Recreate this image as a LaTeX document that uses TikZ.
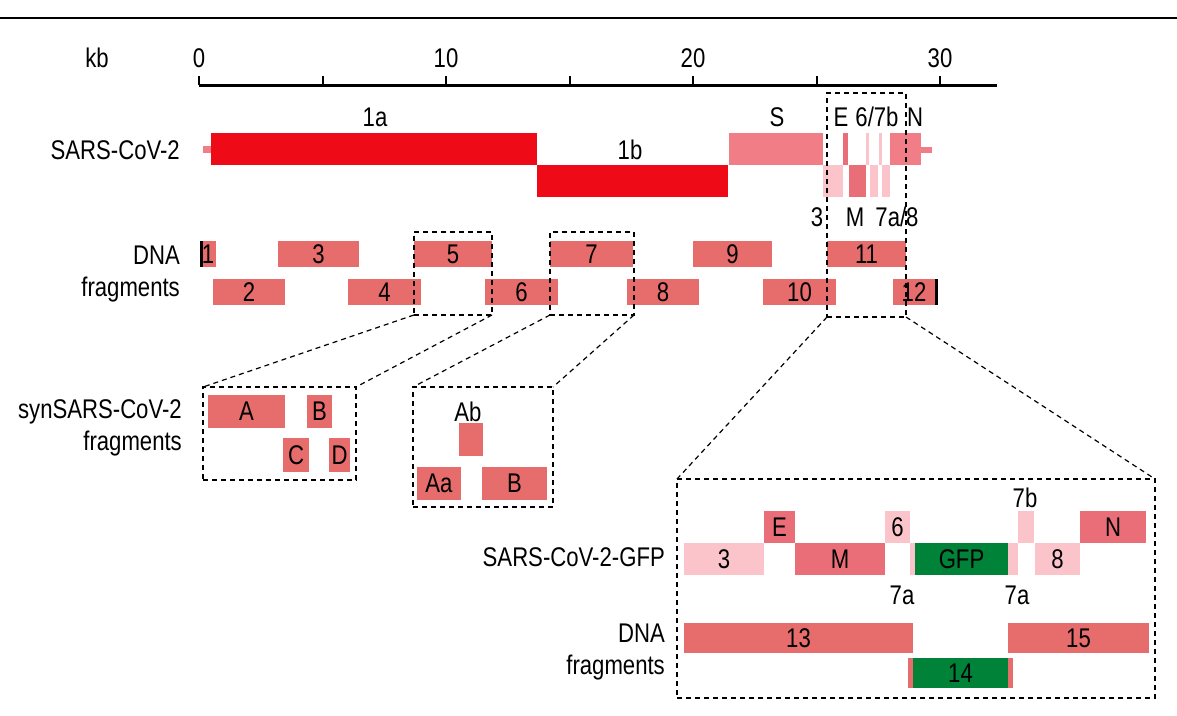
\documentclass[tikz,border=0pt]{standalone}
\usepackage{fontspec}
\setmainfont{Liberation Sans}[FakeStretch=0.82]

\definecolor{orfred}{RGB}{238,10,22}
\definecolor{orfpink}{RGB}{241,125,135}
\definecolor{orfmid}{RGB}{233,110,120}
\definecolor{orflight}{RGB}{250,196,202}
\definecolor{fragsalmon}{RGB}{231,108,108}
\definecolor{gfpgreen}{RGB}{0,130,56}

\tikzset{
	seg/.style={fill=#1, draw=none, inner sep=0pt, outer sep=0pt, anchor=north west},
	zoomrect/.style={draw, line width=1.2pt, dash pattern=on 5pt off 4pt, inner sep=0pt, outer sep=0pt, anchor=north west},
	zoomline/.style={line width=1.2pt, dash pattern=on 5pt off 4pt},
	lbl/.style={inner sep=0pt},
	rowlbl/.style={align=right, anchor=east, inner sep=0pt}
}

% style, name, x1, x2, top, bottom, text
\newcommand{\gbox}[7]{\node[#1, minimum width={#4-#3}, minimum height={#6-#5}] (#2) at (#3,#5) {#7};}

\begin{document}
\begin{tikzpicture}[x=1pt, y=-1pt, font=\fontsize{27}{32}\selectfont]
	\useasboundingbox (0,0) rectangle (1177,715);
	\draw[line width=2.5pt] (0,18) -- (1177,18);

	% scale in kb
	\node[lbl] (kb) at (97,58) {kb};
	\draw[line width=3pt] (199,85) -- (997,85);
	\foreach \k in {0,5,...,30}
		\draw[line width=2pt] (199+24.7*\k,85) -- ++(0,-9);
	\foreach \k in {0,10,20,30}
		\node[lbl] (tick\k) at (199+24.7*\k,58) {\k};

	% genome
	\node[rowlbl] (lgenome) at (180,150) {SARS-CoV-2};
	\gbox{seg=orfpink}{utr5}{203}{212}{146}{153}{}
	\gbox{seg=orfpink}{utr3}{920}{932}{147}{153}{}
	\gbox{seg=orfred}{orf1a}{211}{537}{133}{165}{}
	\gbox{seg=orfred}{orf1b}{537}{728}{165}{197}{}
	\gbox{seg=orfpink}{orfS}{729}{823}{133}{165}{}
	\gbox{seg=orflight}{orf3}{823}{843}{165}{197}{}
	\gbox{seg=orfmid}{orfE}{843}{848}{133}{165}{}
	\gbox{seg=orfmid}{orfM}{849}{866}{165}{197}{}
	\gbox{seg=orflight}{orf6}{866}{869}{133}{165}{}
	\gbox{seg=orflight}{orf7a}{870}{878}{165}{197}{}
	\gbox{seg=orflight}{orf7b}{879}{882}{133}{165}{}
	\gbox{seg=orflight}{orf8}{882}{890}{165}{197}{}
	\gbox{seg=orfpink}{orfN}{890}{921}{133}{165}{}
	\node[lbl] (l1a) at (375,117) {1a};
	\node[lbl] (l1b) at (630,150) {1b};
	\node[lbl] (lS) at (777,117) {S};
	\node[lbl] (lE) at (841,117) {E};
	\node[lbl] (l67b) at (877,117) {6/7b};
	\node[lbl] (lN) at (915,117) {N};
	\node[lbl] (l3) at (817,217) {3};
	\node[lbl] (lM) at (855,217) {M};
	\node[lbl] (l7a8) at (897,217) {7a/8};

	% DNA fragments 1-12
	\node[rowlbl] (ldna) at (180,274) {DNA\\fragments};
	\gbox{seg=fragsalmon}{f1}{200}{216}{241}{267}{1}
	\gbox{seg=black}{end1}{200}{203}{241}{267}{}
	\gbox{seg=fragsalmon}{f2}{213}{285}{279}{305}{2}
	\gbox{seg=fragsalmon}{f3}{278}{359}{241}{267}{3}
	\gbox{seg=fragsalmon}{f4}{348}{421}{279}{305}{4}
	\gbox{seg=fragsalmon}{f5}{414}{492}{241}{267}{5}
	\gbox{seg=fragsalmon}{f6}{485}{558}{279}{305}{6}
	\gbox{seg=fragsalmon}{f7}{550}{633}{241}{267}{7}
	\gbox{seg=fragsalmon}{f8}{627}{699}{279}{305}{8}
	\gbox{seg=fragsalmon}{f9}{693}{772}{241}{267}{9}
	\gbox{seg=fragsalmon}{f10}{763}{836}{279}{305}{10}
	\gbox{seg=fragsalmon}{f11}{827}{906}{241}{267}{11}
	\gbox{seg=fragsalmon}{f12}{893}{935}{279}{305}{12}
	\gbox{seg=black}{end12}{935}{938}{279}{305}{}

	% synthetic sub-fragments
	\node[rowlbl] (lsyn) at (182,428) {synSARS-CoV-2\\fragments};
	\gbox{seg=fragsalmon}{s5A}{208}{285}{395}{428}{A}
	\gbox{seg=fragsalmon}{s5B}{307}{332}{395}{428}{B}
	\gbox{seg=fragsalmon}{s5C}{283}{309}{438}{472}{C}
	\gbox{seg=fragsalmon}{s5D}{329}{350}{438}{472}{D}
	\node[lbl] (lAb) at (468,412) {Ab};
	\gbox{seg=fragsalmon}{s7Ab}{459}{483}{423}{456}{}
	\gbox{seg=fragsalmon}{s7Aa}{417}{461}{467}{500}{Aa}
	\gbox{seg=fragsalmon}{s7B}{482}{547}{467}{500}{B}

	% GFP reporter
	\node[rowlbl] (lgfp) at (665,557) {SARS-CoV-2-GFP};
	\gbox{seg=orflight}{g3}{684}{764}{543}{575}{3}
	\gbox{seg=orfmid}{gE}{764}{795}{511}{543}{E}
	\gbox{seg=orfmid}{gM}{795}{885}{543}{575}{M}
	\gbox{seg=orflight}{g6}{885}{910}{511}{543}{6}
	\gbox{seg=orflight}{g7aL}{910}{915}{543}{575}{}
	\gbox{seg=gfpgreen}{gGFP}{915}{1008}{543}{575}{GFP}
	\gbox{seg=orflight}{g7aR}{1008}{1018}{543}{575}{}
	\gbox{seg=orflight}{g7b}{1018}{1034}{511}{543}{}
	\gbox{seg=orflight}{g8}{1035}{1080}{543}{575}{8}
	\gbox{seg=orfmid}{gN}{1080}{1146}{511}{543}{N}
	\node[lbl] (l7b) at (1025,498) {7b};
	\node[lbl] (l7aL) at (902,595) {7a};
	\node[lbl] (l7aR) at (1017,595) {7a};
	\node[rowlbl] (ldna2) at (665,652) {DNA\\fragments};
	\gbox{seg=fragsalmon}{f13}{684}{913}{623}{653}{13}
	\gbox{seg=fragsalmon}{f15}{1008}{1149}{623}{653}{15}
	\gbox{seg=fragsalmon}{f14}{908}{1013}{658}{688}{}
	\gbox{seg=gfpgreen}{f14g}{913}{1008}{658}{688}{14}

	% zoom boxes
	\gbox{zoomrect}{z5}{414}{492}{232}{315}{}
	\gbox{zoomrect}{z7}{550}{634}{232}{315}{}
	\gbox{zoomrect}{z11}{827}{906}{93}{317}{}
	\gbox{zoomrect}{zs5}{203}{356}{387}{480}{}
	\gbox{zoomrect}{zs7}{413}{553}{387}{507}{}
	\gbox{zoomrect}{zgfp}{677}{1155}{479}{698}{}
	\draw[zoomline] (z5.south west) -- (zs5.north west);
	\draw[zoomline] (z5.south east) -- (zs5.north east);
	\draw[zoomline] (z7.south west) -- (zs7.north west);
	\draw[zoomline] (z7.south east) -- (zs7.north east);
	\draw[zoomline] (z11.south west) -- (zgfp.north west);
	\draw[zoomline] (z11.south east) -- (zgfp.north east);
\end{tikzpicture}
\end{document}
